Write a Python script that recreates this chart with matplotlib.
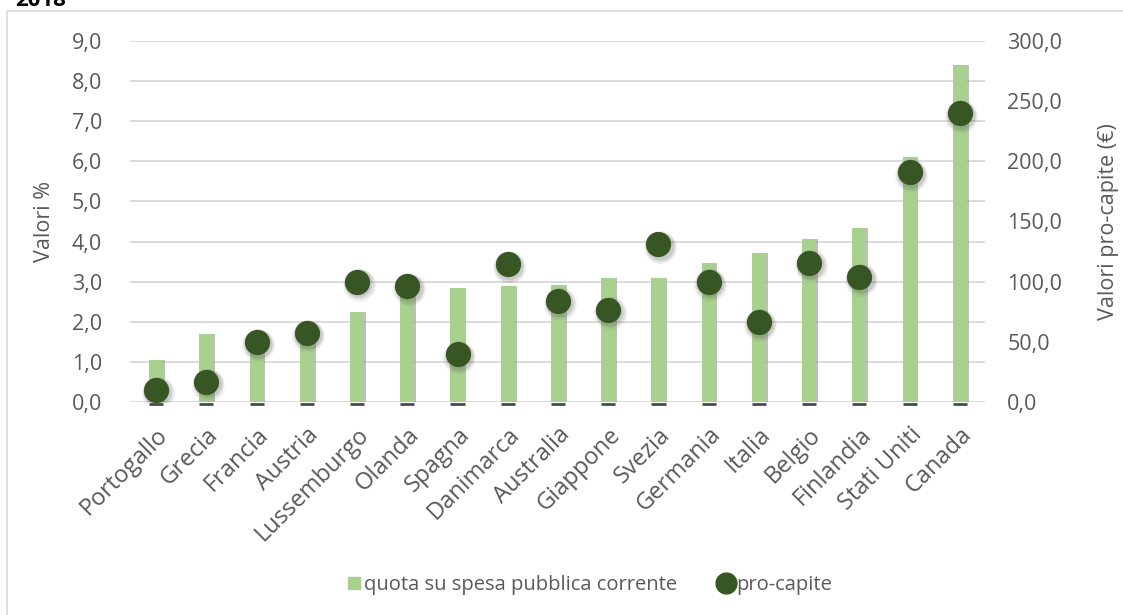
import matplotlib
matplotlib.use("Agg")
import matplotlib.pyplot as plt
from matplotlib.lines import Line2D
from matplotlib.patches import Rectangle
from matplotlib.ticker import FuncFormatter, MultipleLocator

plt.rcParams['font.family'] = ['Open Sans', 'DejaVu Sans']

paesi = ["Portogallo", "Grecia", "Francia", "Austria", "Lussemburgo", "Olanda",
         "Spagna", "Danimarca", "Australia", "Giappone", "Svezia", "Germania",
         "Italia", "Belgio", "Finlandia", "Stati Uniti", "Canada"]
quota_spesa = [1.05, 1.70, 1.50, 1.75, 2.24, 2.75, 2.84, 2.89, 2.92, 3.08,
               3.09, 3.46, 3.71, 4.06, 4.34, 6.10, 8.40]
pro_capite = [10.0, 17.0, 50.0, 57.5, 100.0, 96.0, 39.5, 114.5, 84.0, 76.5,
              131.0, 100.0, 66.5, 115.5, 104.0, 191.0, 240.0]

BAR = "#A9D18E"
DOT = "#375623"
TXT = "#595959"
GRID = "#D9D9D9"
FS = 15.5

fig = plt.figure(figsize=(11.23, 6.15), dpi=100)
fig.patch.set_facecolor("white")

# chart frame
fig.patches.append(Rectangle((7 / 1123, -0.1), 1.2, 1 - 11 / 615 + 0.1,
                             transform=fig.transFigure, fill=False,
                             edgecolor="#D9D9D9", linewidth=1.2, zorder=0))
fig.text(15 / 1123, 1.0 + 10 / 615, "2018", fontsize=16, fontweight="bold",
         color="black", va="top", ha="left")

ax = fig.add_axes([130 / 1123, 1 - 402 / 615, 855 / 1123, 361 / 615])
x = list(range(len(paesi)))
w = 0.28

# bar shadows and bars
ax.bar([i + 0.035 for i in x], quota_spesa, width=w, color="#8c8c8c",
       alpha=0.55, zorder=2, linewidth=0)
ax.bar(x, quota_spesa, width=w, color=BAR, zorder=3, linewidth=0)
ax.hlines([-0.04] * len(x), [i - w / 2 for i in x], [i + w / 2 for i in x],
          color="#4a4a4a", linewidth=2, zorder=4, clip_on=False)

ax.set_ylim(0, 9)
ax.set_xlim(-0.52, 16.5)
ax.yaxis.set_major_locator(MultipleLocator(1))
ax.yaxis.set_major_formatter(FuncFormatter(lambda v, p: f"{v:.1f}".replace(".", ",")))
ax.grid(axis="y", color=GRID, linewidth=1.3, zorder=0)
ax.set_axisbelow(True)
for s in ax.spines.values():
    s.set_visible(False)
ax.tick_params(axis="both", length=0, labelsize=FS, colors=TXT)
ax.tick_params(axis="y", pad=20)
ax.set_xticks(x)
ax.set_xticklabels(paesi, rotation=45, ha="right", rotation_mode="anchor",
                   fontsize=17)
ax.tick_params(axis="x", pad=15)
ax.set_ylabel("Valori %", fontsize=FS, color=TXT, labelpad=12)

ax2 = ax.twinx()
ax2.set_ylim(0, 300)
ax2.yaxis.set_major_locator(MultipleLocator(50))
ax2.yaxis.set_major_formatter(FuncFormatter(lambda v, p: f"{v:.1f}".replace(".", ",")))
for s in ax2.spines.values():
    s.set_visible(False)
ax2.tick_params(axis="y", length=0, labelsize=FS, colors=TXT, pad=16)
ax2.set_ylabel("Valori pro-capite (€)", fontsize=FS, color=TXT, labelpad=26)

# soft shadow under the dots
for dx, dy, s, a in [(0.03, -2.5, 560, 0.08), (0.03, -2.0, 470, 0.12),
                     (0.025, -1.5, 400, 0.15)]:
    ax2.scatter([i + dx for i in x], [v + dy for v in pro_capite], s=s,
                color="#555555", alpha=a, linewidth=0, zorder=4)
ax2.scatter(x, pro_capite, s=330, color=DOT, linewidth=0, zorder=5)

handles = [Line2D([], [], marker="s", linestyle="none", markersize=8,
                  markerfacecolor=BAR, markeredgecolor=BAR),
           Line2D([], [], marker="o", linestyle="none", markersize=15,
                  markerfacecolor=DOT, markeredgecolor=DOT)]
fig.legend(handles, ["quota su spesa pubblica corrente", "pro-capite"],
           loc="center", bbox_to_anchor=(588 / 1123, 1 - 585 / 615), ncol=2,
           frameon=False, fontsize=14.5, labelcolor=TXT, handlelength=1.0,
           handletextpad=0.0, columnspacing=1.9)

fig.savefig("out.png", dpi=100, facecolor="white")
